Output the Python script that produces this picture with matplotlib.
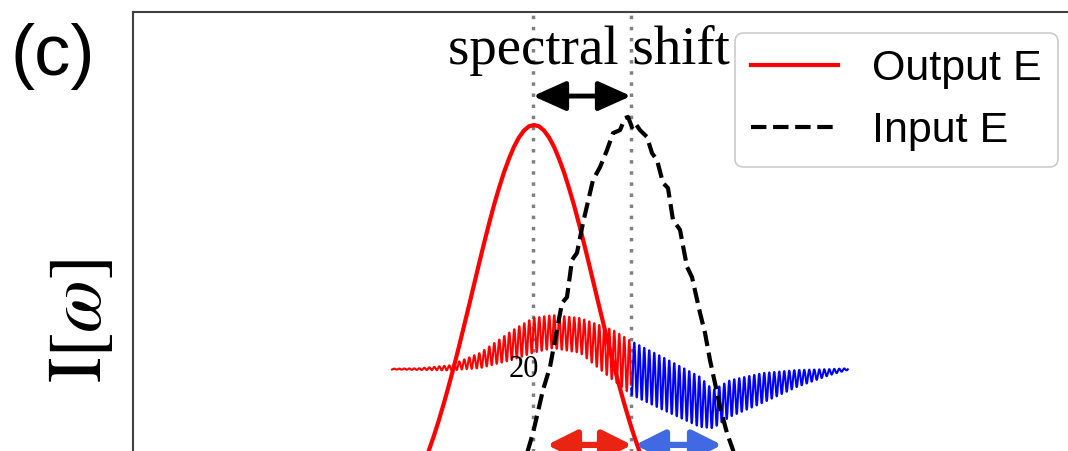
import numpy as np
import matplotlib
matplotlib.use("Agg")
import matplotlib.pyplot as plt

plt.rcParams['mathtext.fontset'] = 'stix'

# spectra (x: frequency, arb. units; y: intensity, peak ~ 1)
out_x = [2.81, 2.86, 2.91, 2.96, 3.01, 3.06, 3.11, 3.16, 3.21, 3.26, 3.31, 3.36, 3.41,
         3.46, 3.51, 3.56, 3.61, 3.66, 3.71, 3.76, 3.81, 3.86, 3.91, 3.96, 4.01,
         4.06, 4.11, 4.16, 4.21, 4.26, 4.31, 4.36, 4.41, 4.46, 4.51, 4.56, 4.61,
         4.66, 4.71, 4.76, 4.81, 4.86, 4.91, 4.96, 5.01, 5.06, 5.11, 5.16, 5.21]
out_y = [0.153, 0.178, 0.206, 0.237, 0.271, 0.308, 0.348, 0.390, 0.434, 0.480, 0.528, 0.576, 0.625,
         0.674, 0.722, 0.768, 0.812, 0.852, 0.889, 0.921, 0.949, 0.971, 0.987, 0.997, 1.000,
         0.997, 0.987, 0.971, 0.949, 0.921, 0.889, 0.852, 0.812, 0.768, 0.722, 0.674, 0.625,
         0.576, 0.528, 0.480, 0.434, 0.390, 0.348, 0.308, 0.271, 0.237, 0.206, 0.178, 0.153]

in_x = [3.87, 3.95, 4.00, 4.10, 4.17, 4.22, 4.29, 4.34, 4.39, 4.44, 4.50, 4.60, 4.67,
        4.74, 4.80, 4.87, 4.92, 4.95, 4.99, 5.02, 5.07, 5.14, 5.19, 5.24, 5.30, 5.35,
        5.40, 5.47, 5.54, 5.59, 5.67, 5.72, 5.77, 5.82, 5.87, 5.94, 6.00, 6.07]
in_y = [0.171, 0.237, 0.277, 0.378, 0.432, 0.495, 0.582, 0.596, 0.683, 0.700, 0.770, 0.871, 0.901,
        0.941, 0.981, 0.988, 1.016, 1.019, 0.995, 1.005, 0.988, 0.972, 0.934, 0.918, 0.864, 0.852,
        0.777, 0.754, 0.667, 0.643, 0.559, 0.512, 0.448, 0.394, 0.338, 0.277, 0.237, 0.178]

# field trace drawn under the spectra: slow centre line, envelope and carrier period
wave_x = [2.59, 2.87, 3.17, 3.47, 3.80, 4.00, 4.20, 4.47, 4.80, 4.98,
          5.30, 5.67, 5.80, 5.97, 6.30, 6.64, 6.97, 7.15]
wave_mid = [0.427, 0.427, 0.430, 0.447, 0.484, 0.506, 0.515, 0.506, 0.460, 0.430,
            0.393, 0.350, 0.333, 0.358, 0.383, 0.405, 0.420, 0.427]
wave_amp = [0.001, 0.002, 0.006, 0.018, 0.035, 0.041, 0.039, 0.041, 0.059, 0.063,
            0.062, 0.059, 0.045, 0.043, 0.035, 0.020, 0.007, 0.002]
wave_period = 0.05
split_x = 4.98

peak_out = 4.00
peak_in = 4.98

fig = plt.figure(figsize=(10.68, 4.51), dpi=100)
fig.patch.set_facecolor('white')
# axes runs past the right and bottom edge of the picture (cropped panel)
ax = fig.add_axes([0.12453, -0.22173, 0.93633, 1.19512])
ax.set_xlim(0, 10)
ax.set_ylim(0, 1.2653)
ax.set_xticks([])
ax.set_yticks([])
for s in ['left', 'top']:
    ax.spines[s].set_color('0.25')
    ax.spines[s].set_linewidth(1.5)

# carrier trace
t = np.arange(wave_x[0], wave_x[-1], 0.002)
sig = np.interp(t, wave_x, wave_mid) + np.interp(t, wave_x, wave_amp) * np.sin(2 * np.pi * t / wave_period)
m = t <= split_x
ax.plot(t[m], sig[m], color='red', lw=1.5, zorder=2)
ax.plot(t[~m], sig[~m], color='blue', lw=1.5, zorder=2)

for xv in [peak_out, peak_in]:
    ax.axvline(xv, color='grey', lw=2.5, linestyle=(0, (1, 2.2)), zorder=1)

ax.plot(out_x, out_y, color='red', lw=3, label='Output E', zorder=3)
ax.plot(in_x, in_y, color='black', lw=3, linestyle='--', label='Input E', zorder=3)

head = '<|-|>,head_length=1.0,head_width=0.45'
ax.annotate('', xy=(peak_in, 1.068), xytext=(peak_out, 1.068),
            arrowprops=dict(arrowstyle=head, mutation_scale=20, lw=3.5, color='black',
                            shrinkA=0, shrinkB=0), zorder=4)
small = '<|-|>,head_length=0.9,head_width=0.45'
ax.annotate('', xy=(4.99, 0.249), xytext=(4.14, 0.249),
            arrowprops=dict(arrowstyle=small, mutation_scale=20, lw=4.5, color='#ea2413',
                            shrinkA=0, shrinkB=0), zorder=4)
ax.annotate('', xy=(5.89, 0.249), xytext=(5.02, 0.249),
            arrowprops=dict(arrowstyle=small, mutation_scale=20, lw=4.5, color='royalblue',
                            shrinkA=0, shrinkB=0), zorder=4)

ax.text(4.555, 1.143, 'spectral shift', family='Liberation Serif', fontsize=39.5,
        ha='center', va='baseline', zorder=5)
ax.text(3.91, 0.427, '20', family='Liberation Serif', fontsize=22,
        ha='center', va='center', zorder=5)

fig.text(0.0095, 0.8337, '(c)', family='Liberation Sans', fontsize=52, va='baseline')
fig.text(0.0749, 0.2882, r'$\mathrm{I}[\omega]$', fontsize=55, rotation=90,
         ha='center', va='center')

leg = ax.legend(loc='upper right', bbox_to_anchor=(1058 / 1068, (451 - 33) / 451),
                bbox_transform=fig.transFigure, borderaxespad=0,
                prop={'family': 'Liberation Sans', 'size': 31},
                labelspacing=0.5, borderpad=0.38, handlelength=2.0,
                handletextpad=0.8, fancybox=True, framealpha=1)
leg.get_frame().set_edgecolor('0.8')
leg.get_frame().set_linewidth(1.2)

fig.savefig('out.png', dpi=100)
